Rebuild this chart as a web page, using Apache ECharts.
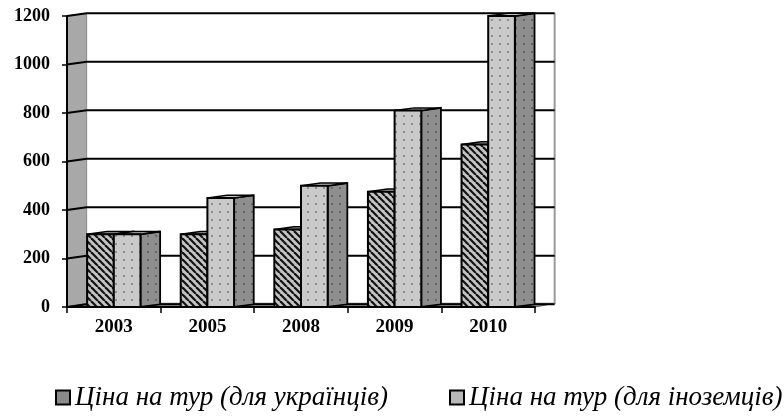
<!DOCTYPE html>
<html>
<head>
<meta charset="utf-8">
<script src="https://cdn.jsdelivr.net/npm/echarts@6/dist/echarts.min.js"></script>
<style>
  html, body { margin: 0; padding: 0; background: #fff; }
  #chart { width: 784px; height: 417px; }
</style>
</head>
<body>
<div id="chart"></div>
<script>
const categories = ['2003', '2005', '2008', '2009', '2010']
const ukrainians = [300, 300, 320, 475, 670]
const foreigners = [300, 450, 500, 810, 1200]
const yTicks = [0, 200, 400, 600, 800, 1000, 1200]

const nameUa = 'Ціна на тур (для українців)'
const nameFor = 'Ціна на тур (для іноземців)'

// depth of the fake 3d look
const DEPTH = 0.21
const DY = -2.7

function makeHatch() {
    const s = 7
    const c = document.createElement('canvas')
    c.width = s
    c.height = s
    const ctx = c.getContext('2d')
    ctx.fillStyle = '#c4c4c4'
    ctx.fillRect(0, 0, s, s)
    ctx.strokeStyle = '#111'
    ctx.lineWidth = 2.2
    for (const k of [-s, 0, s]) {
        ctx.beginPath()
        ctx.moveTo(k, 0)
        ctx.lineTo(k + s, s)
        ctx.stroke()
    }
    return { image: c, repeat: 'repeat' }
}

function makeDots(bg, dot) {
    const s = 8
    const c = document.createElement('canvas')
    c.width = s
    c.height = s
    const ctx = c.getContext('2d')
    ctx.fillStyle = bg
    ctx.fillRect(0, 0, s, s)
    ctx.fillStyle = dot
    ctx.fillRect(3, 3, 2, 2)
    return { image: c, repeat: 'repeat' }
}

const hatch = makeHatch()
const dotsLight = makeDots('#cacaca', '#8e8e8e')
const dotsDark = makeDots('#8e8e8e', '#666666')

function barRenderer(offset, front, side, topColor) {
    return function (params, api) {
        const bw = api.size([1, 0])[0]
        const top = api.coord([api.value(0), api.value(1)])
        const base = api.coord([api.value(0), 0])
        const w = 0.285 * bw
        const dx = DEPTH * bw
        const x = top[0] - bw / 2 + offset * bw
        const y1 = top[1]
        const y0 = base[1]
        return {
            type: 'group',
            children: [
                {
                    type: 'polygon',
                    shape: { points: [[x + w, y1], [x + w + dx, y1 + DY], [x + w + dx, y0 + DY], [x + w, y0]] },
                    style: { fill: side, stroke: '#000', lineWidth: 1.8 }
                },
                {
                    type: 'polygon',
                    shape: { points: [[x, y1], [x + dx, y1 + DY], [x + w + dx, y1 + DY], [x + w, y1]] },
                    style: { fill: topColor, stroke: '#000', lineWidth: 1.5 }
                },
                {
                    type: 'rect',
                    shape: { x: x, y: y1, width: w, height: y0 - y1 },
                    style: { fill: front, stroke: '#000', lineWidth: 2 }
                }
            ]
        }
    }
}

function frameRenderer(params, api) {
    const bw = api.size([1, 0])[0]
    const dx = DEPTH * bw
    const p = api.coord([0, api.value(1)])
    const x0 = p[0] - bw / 2
    const xEnd = x0 + categories.length * bw
    const y = p[1]
    const children = []
    if (params.dataIndex === 0) {
        const yTop = api.coord([0, yTicks[yTicks.length - 1]])[1]
        children.push({
            type: 'polygon',
            shape: { points: [[x0, y], [x0 + dx, y + DY], [x0 + dx, yTop + DY], [x0, yTop]] },
            style: { fill: '#a8a8a8', stroke: '#8a8a8a', lineWidth: 1 }
        })
        children.push({
            type: 'polygon',
            shape: { points: [[x0, y], [x0 + dx, y + DY - 1], [xEnd + dx, y + DY - 1], [xEnd, y]] },
            style: { fill: '#a0a0a0', stroke: '#555', lineWidth: 1 }
        })
        children.push({
            type: 'line',
            shape: { x1: xEnd + dx, y1: y + DY, x2: xEnd + dx, y2: yTop + DY },
            style: { stroke: '#999', lineWidth: 2 }
        })
    }
    children.push({
        type: 'polyline',
        shape: { points: [[x0, y], [x0 + dx, y + DY], [xEnd + dx, y + DY]] },
        style: { fill: null, stroke: '#000', lineWidth: 2 }
    })
    return { type: 'group', children: children }
}

const myChart = echarts.init(document.getElementById('chart'))

const legendText = { fontFamily: 'Liberation Serif', fontStyle: 'italic', fontSize: 27, color: '#000' }

myChart.setOption({
    animation: false,
    backgroundColor: '#fff',
    grid: {
        left: 67,
        right: 249,
        top: 16,
        bottom: 110
    },
    legend: [
        {
            left: 50,
            top: 379,
            icon: 'rect',
            itemWidth: 14,
            itemHeight: 14,
            textStyle: legendText,
            data: [{ name: nameUa, itemStyle: { color: '#8a8a8a', borderColor: '#000', borderWidth: 2 } }]
        },
        {
            left: 444,
            top: 379,
            icon: 'rect',
            itemWidth: 14,
            itemHeight: 14,
            textStyle: legendText,
            data: [{ name: nameFor, itemStyle: { color: '#b8b8b8', borderColor: '#000', borderWidth: 2 } }]
        }
    ],
    xAxis: {
        type: 'category',
        data: categories,
        boundaryGap: true,
        z: 5,
        axisLine: { show: true, lineStyle: { color: '#000', width: 2 } },
        axisTick: { show: true, length: 6, lineStyle: { color: '#000', width: 1.5 } },
        axisLabel: {
            margin: 11,
            fontFamily: 'Liberation Serif',
            fontWeight: 'bold',
            fontSize: 19,
            color: '#000'
        },
        splitLine: { show: false }
    },
    yAxis: {
        type: 'value',
        min: 0,
        max: 1200,
        interval: 200,
        z: 5,
        axisLine: { show: true, lineStyle: { color: '#000', width: 2 } },
        axisTick: { show: true, length: 5, lineStyle: { color: '#000', width: 1.5 } },
        axisLabel: {
            margin: 17,
            fontFamily: 'Liberation Serif',
            fontWeight: 'bold',
            fontSize: 18,
            color: '#000',
            formatter: v => String(v)
        },
        splitLine: { show: false }
    },
    series: [
        {
            name: 'frame',
            type: 'custom',
            z: 1,
            silent: true,
            renderItem: frameRenderer,
            encode: { x: 0, y: 1 },
            data: yTicks.map(v => [0, v])
        },
        {
            name: nameUa,
            type: 'custom',
            z: 2,
            renderItem: barRenderer(0.215, hatch, dotsDark, '#a8a8a8'),
            encode: { x: 0, y: 1 },
            itemStyle: { color: '#8a8a8a' },
            data: ukrainians.map((v, i) => [i, v])
        },
        {
            name: nameFor,
            type: 'custom',
            z: 3,
            renderItem: barRenderer(0.5, dotsLight, dotsDark, '#c4c4c4'),
            encode: { x: 0, y: 1 },
            itemStyle: { color: '#b8b8b8' },
            data: foreigners.map((v, i) => [i, v])
        }
    ]
})
</script>
</body>
</html>
